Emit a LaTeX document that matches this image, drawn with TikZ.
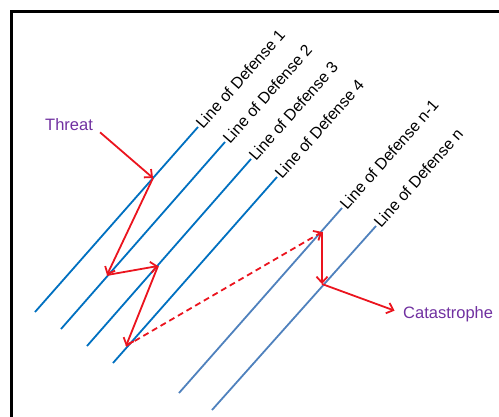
\documentclass[tikz,border=0pt]{standalone}
\usepackage{fontspec}
\setmainfont{Liberation Sans}
\usetikzlibrary{positioning,calc,arrows.meta}
\definecolor{lodblue}{RGB}{0,112,192}
\definecolor{lodsteel}{RGB}{79,129,189}
\definecolor{lodred}{RGB}{235,20,30}
\definecolor{lodpurple}{RGB}{112,48,160}

\begin{document}
\begin{tikzpicture}
    [x=1pt,y=-1pt,
     defense/.style={draw=lodblue,line width=1.8pt},
     defenselate/.style={draw=lodsteel,line width=1.8pt},
     deflabel/.style={anchor=west,rotate=48.6,inner sep=1pt,font=\fontsize{16}{18}\selectfont},
     event/.style={text=lodpurple,inner sep=0pt,font=\fontsize{16.5}{18}\selectfont},
     hit/.style={draw=lodred,line width=1.8pt,-{Straight Barb[length=6pt,width=11pt]}},
     jump/.style={hit,dash pattern=on 6pt off 4pt}]
    \useasboundingbox (0,0) rectangle (499,416);
    \clip (0,0) rectangle (499,416);

    % Frame
    \draw [line width=3pt] (11.5,11.5) rectangle (530,440);

    % Lines of defense
    \coordinate (d1b) at (35,312);  \coordinate (d1t) at (198,127);
    \coordinate (d2b) at (61,329);  \coordinate (d2t) at (225,142);
    \coordinate (d3b) at (87,346);  \coordinate (d3t) at (251,159);
    \coordinate (d4b) at (113,363); \coordinate (d4t) at (277,177);
    \coordinate (dm1b) at (179,393); \coordinate (dm1t) at (342,208);
    \coordinate (dnb) at (212,410); \coordinate (dnt) at (376,226);

    \draw [defense] (d1b) -- (d1t);
    \draw [defense] (d2b) -- (d2t);
    \draw [defense] (d3b) -- (d3t);
    \draw [defense] (d4b) -- (d4t);
    \draw [defenselate] (dm1b) -- (dm1t);
    \draw [defenselate] (dnb) -- (dnt);

    \node (d1lbl) at (d1t) [deflabel] {Line of Defense 1};
    \node (d2lbl) at (d2t) [deflabel] {Line of Defense 2};
    \node (d3lbl) at (d3t) [deflabel] {Line of Defense 3};
    \node (d4lbl) at (d4t) [deflabel] {Line of Defense 4};
    \node (dm1lbl) at (dm1t) [deflabel] {Line of Defense n-1};
    \node (dnlbl) at (dnt) [deflabel] {Line of Defense n};

    % Threat path
    \node (threat) at (45,130) [event,anchor=base west] {Threat};
    \node (cat) at (403,318) [event,anchor=base west] {Catastrophe};

    \coordinate (h1) at (153,178);
    \coordinate (h2) at (107,275);
    \coordinate (h3) at (158,266);
    \coordinate (h4) at (126,346);
    \coordinate (h5) at (322,232);
    \coordinate (h6) at (322,284);

    \draw [hit] ($(threat.south east)+(7,2)$) -- (h1);
    \draw [hit] (h1) -- (h2);
    \draw [hit] (h2) -- (h3);
    \draw [hit] (h3) -- (h4);
    \draw [jump] (h4) -- (h5);
    \draw [hit] (h5) -- (h6);
    \draw [hit,shorten >=9pt] (h6) -- (cat.west);
\end{tikzpicture}
\end{document}
